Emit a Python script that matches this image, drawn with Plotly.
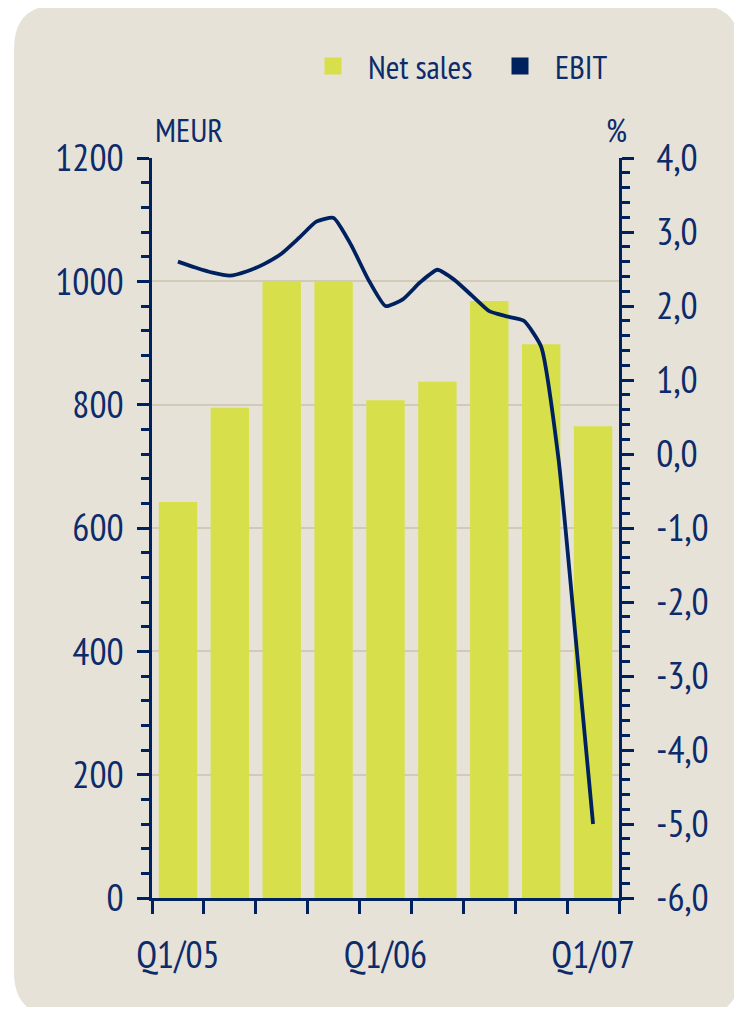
import plotly.graph_objects as go

# ---------------- data ----------------
categories = ["Q1/05", "Q2/05", "Q3/05", "Q4/05", "Q1/06", "Q2/06", "Q3/06", "Q4/06", "Q1/07"]
net_sales = [642, 795, 1000, 1000, 807, 837, 968, 898, 765]          # MEUR

# EBIT margin (%), monthly readings, month 0 = Q1/05 ... month 24 = Q1/07
ebit_months = list(range(25))
ebit_pct = [2.60, 2.52, 2.45, 2.41, 2.47, 2.57, 2.71, 2.92, 3.14, 3.19, 2.83, 2.36,
            2.00, 2.09, 2.32, 2.49, 2.35, 2.14, 1.93, 1.86, 1.80, 1.45, -0.06, -2.50, -5.00]

x_tick_labels = ["Q1/05", "Q1/06", "Q1/07"]
left_tickvals = [0, 200, 400, 600, 800, 1000, 1200]
right_tickvals = [-6, -5, -4, -3, -2, -1, 0, 1, 2, 3, 4]
right_ticktext = ["-6,0", "-5,0", "-4,0", "-3,0", "-2,0", "-1,0", "0,0", "1,0", "2,0", "3,0", "4,0"]

# ---------------- style ----------------
PANEL = "#E6E2D8"
BAR = "#D7E04B"
NAVY = "#00215F"
TEXT = "#0C2B6B"
GRID = "#CFCBB8"
FONT = "PT Sans Narrow, Roboto Condensed, Liberation Sans Narrow, DejaVu Sans Condensed, sans-serif"

W, H = 726, 999
ML, MR, MT, MB = 144, 115, 150, 109
PW, PH = W - ML - MR, H - MT - MB

x_idx = list(range(len(categories)))
label_pos = [categories.index(c) for c in x_tick_labels]
ebit_x = [m / 3 for m in ebit_months]

fig = go.Figure()
fig.add_trace(go.Bar(
    x=x_idx, y=net_sales, name="Net sales",
    marker=dict(color=BAR, line=dict(width=0)),
    width=0.74, yaxis="y", showlegend=False,
))
fig.add_trace(go.Scatter(
    x=ebit_x, y=ebit_pct, name="EBIT", mode="lines",
    line=dict(color=NAVY, width=3.8, shape="spline", smoothing=0.5),
    yaxis="y2", showlegend=False,
))
# legend entries (square swatches)
for name, col, ax in [("Net sales", BAR, "y"), ("EBIT", NAVY, "y2")]:
    fig.add_trace(go.Bar(
        x=[None], y=[None], name=name,
        marker=dict(color=col, line=dict(color=col, width=12)),
        yaxis=ax, showlegend=True, hoverinfo="skip",
    ))


# rounded background panel (paper coordinates)
def px2paper_x(px):
    return (px - ML) / PW


def px2paper_y(py):
    return (H - MB - py) / PH


x0, x1 = px2paper_x(6), px2paper_x(732)
y0, y1 = px2paper_y(1008), px2paper_y(-3)
rx, ry = 44 / PW, 44 / PH
panel_path = (
    f"M {x0 + rx},{y1} L {x1 - rx},{y1} Q {x1},{y1} {x1},{y1 - ry} "
    f"L {x1},{y0 + ry} Q {x1},{y0} {x1 - rx},{y0} "
    f"L {x0 + rx},{y0} Q {x0},{y0} {x0},{y0 + ry} "
    f"L {x0},{y1 - ry} Q {x0},{y1} {x0 + rx},{y1} Z"
)

fig.update_layout(
    width=W, height=H,
    margin=dict(l=ML, r=MR, t=MT, b=MB, pad=0),
    paper_bgcolor="white",
    plot_bgcolor="rgba(0,0,0,0)",
    font=dict(family=FONT, color=TEXT, size=38),
    barmode="overlay",
    shapes=[dict(type="path", path=panel_path, xref="paper", yref="paper",
                 fillcolor=PANEL, line=dict(width=0), layer="below")],
    legend=dict(
        orientation="h", x=px2paper_x(290), xanchor="left",
        y=px2paper_y(58), yanchor="middle",
        font=dict(family=FONT, size=33, color=TEXT),
        bgcolor="rgba(0,0,0,0)", itemwidth=60,
        entrywidth=112, entrywidthmode="pixels",
        traceorder="normal",
    ),
    xaxis=dict(
        range=[-0.5, len(categories) - 0.5],
        tickmode="array", tickvals=label_pos, ticktext=x_tick_labels,
        ticks="", showgrid=False, zeroline=False,
        showline=True, linecolor=NAVY, linewidth=2.5,
        ticklabelstandoff=22,
        tickfont=dict(family=FONT, size=38, color=TEXT),
        minor=dict(tickmode="array", tickvals=[i - 0.5 for i in range(len(categories) + 1)],
                   ticks="outside", ticklen=13, tickwidth=2.5, tickcolor=NAVY, showgrid=False),
    ),
    yaxis=dict(
        range=[0, 1200], tickmode="array", tickvals=left_tickvals,
        ticks="outside", ticklen=12, tickwidth=2.5, tickcolor=NAVY,
        showline=True, linecolor=NAVY, linewidth=2.5,
        showgrid=True, gridcolor=GRID, gridwidth=2, zeroline=False,
        ticklabelstandoff=6,
        tickfont=dict(family=FONT, size=38, color=TEXT),
        minor=dict(dtick=40, tick0=0, ticks="outside", ticklen=8, tickwidth=2.5,
                   tickcolor=NAVY, showgrid=False),
    ),
    yaxis2=dict(
        range=[-6, 4], overlaying="y", side="right", anchor="x",
        tickmode="array", tickvals=right_tickvals, ticktext=right_ticktext,
        ticks="outside", ticklen=12, tickwidth=2.5, tickcolor=NAVY,
        showline=True, linecolor=NAVY, linewidth=2.5,
        showgrid=False, zeroline=False,
        ticklabelstandoff=15,
        tickfont=dict(family=FONT, size=38, color=TEXT),
        minor=dict(dtick=0.2, tick0=0, ticks="outside", ticklen=8, tickwidth=2.5,
                   tickcolor=NAVY, showgrid=False),
    ),
    annotations=[
        dict(text="MEUR", x=px2paper_x(145), y=px2paper_y(122), xref="paper", yref="paper",
             xanchor="left", yanchor="middle", showarrow=False,
             font=dict(family=FONT, size=33, color=TEXT)),
        dict(text="%", x=px2paper_x(621), y=px2paper_y(122), xref="paper", yref="paper",
             xanchor="right", yanchor="middle", showarrow=False,
             font=dict(family=FONT, size=33, color=TEXT)),
    ],
)

fig.write_html("out.html")
